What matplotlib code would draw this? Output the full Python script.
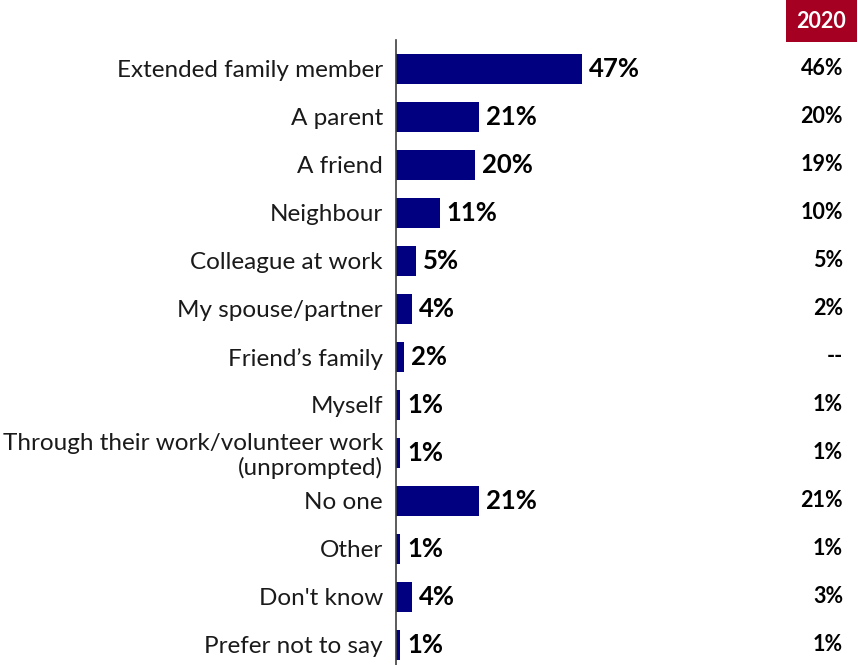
import matplotlib
matplotlib.use("Agg")
import matplotlib.pyplot as plt
from matplotlib.transforms import blended_transform_factory
from matplotlib.patches import Rectangle

categories = [
    "Extended family member",
    "A parent",
    "A friend",
    "Neighbour",
    "Colleague at work",
    "My spouse/partner",
    "Friend\u2019s family",
    "Myself",
    "Through their work/volunteer work\n(unprompted)",
    "No one",
    "Other",
    "Don't know",
    "Prefer not to say",
]
values_current = [47, 21, 20, 11, 5, 4, 2, 1, 1, 21, 1, 4, 1]
values_2020 = ["46%", "20%", "19%", "10%", "5%", "2%", "--", "1%", "1%", "21%", "1%", "3%", "1%"]
year_label = "2020"

plt.rcParams["font.family"] = ["Lato", "DejaVu Sans"]

W, H = 858, 665
fig = plt.figure(figsize=(W / 100, H / 100), dpi=100)

ax_left = 396 / W
row_h = 48
top_px = 40
n = len(categories)
extra_top = 0.6
span = n - 0.5 + extra_top
ax_bottom = 1 - (top_px + span * row_h) / H
ax = fig.add_axes([ax_left, ax_bottom, 1 - ax_left, span * row_h / H])

y = list(range(n))
ax.barh(y, values_current, height=0.62, color="#000080", zorder=2)
ax.set_ylim(n - 0.5, -extra_top)
ax.set_xlim(0, (W - 396) / 3.96)

for yi, v in zip(y, values_current):
    ax.annotate(f"{v}%", (v, yi), xytext=(5, 0), textcoords="offset points",
                va="center", ha="left", fontsize=18.5, fontweight="bold",
                color="#000000")

ax.set_yticks(y)
ax.set_yticklabels(categories, fontsize=17.5, color="#1a1a1a", linespacing=1.15)
ax.tick_params(axis="y", length=0, pad=9.5)
for lbl in ax.get_yticklabels():
    lbl.set_horizontalalignment("right")
    lbl.set_multialignment("right")
ax.set_xticks([])
for s in ["top", "right", "bottom"]:
    ax.spines[s].set_visible(False)
ax.spines["left"].set_color("#404040")
ax.spines["left"].set_linewidth(1.2)

# comparison column for the previous wave
tr = blended_transform_factory(fig.transFigure, ax.transData)
col_x = 843 / W
for yi, s in zip(y, values_2020):
    ax.text(col_x, yi, s, transform=tr, ha="right", va="center",
            fontsize=15.5, fontweight="bold", color="#000000")

fig.patches.append(Rectangle((786 / W, 1 - 42 / H), 71 / W, 42 / H,
                             transform=fig.transFigure, facecolor="#A50021",
                             edgecolor="none"))
fig.text(821 / W, 1 - 21 / H, year_label, ha="center", va="center",
         fontsize=15.5, fontweight="bold", color="white")

fig.savefig("out.png", dpi=100)
